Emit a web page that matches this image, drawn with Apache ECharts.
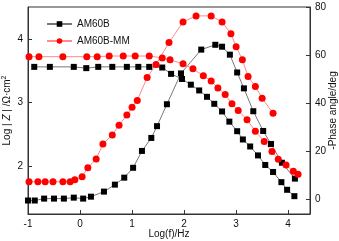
<!DOCTYPE html>
<html>
<head>
<meta charset="utf-8">
<script src="https://cdn.jsdelivr.net/npm/echarts@6/dist/echarts.min.js"></script>
<style>
  html, body { margin: 0; padding: 0; background: #fff; }
  #chart { width: 339px; height: 241px; }
</style>
</head>
<body>
<div id="chart"></div>
<script>
// AM60B  log|Z|
const bZFreq = [-0.88, -0.58, -0.12, 0.12, 0.35, 0.62, 0.90, 1.12, 1.33, 1.58, 1.75, 1.96, 2.13, 2.29, 2.44, 2.58, 2.73, 2.87, 3.02, 3.13, 3.27, 3.42, 3.56, 3.71, 3.87, 3.98, 4.12];
const bZ = [3.56, 3.56, 3.56, 3.54, 3.56, 3.56, 3.56, 3.56, 3.56, 3.55, 3.45, 3.37, 3.28, 3.19, 3.09, 2.98, 2.86, 2.70, 2.55, 2.42, 2.31, 2.17, 2.02, 1.91, 1.75, 1.63, 1.53];
// AM60B  -phase
const bPFreq = [-1, -0.87, -0.69, -0.5, -0.31, -0.12, 0.06, 0.21, 0.46, 0.67, 0.85, 1.02, 1.19, 1.37, 1.48, 1.67, 1.94, 2.33, 2.6, 2.73, 2.88, 3.02, 3.15, 3.33, 3.52, 3.67, 3.88, 4.13];
const bP = [-0.4, -0.4, 0.4, 0.4, 0.4, 0.8, 0.4, 1.2, 3.3, 6.2, 9.1, 13.2, 20.2, 25.6, 30.5, 39.6, 52.4, 62.3, 64.3, 63.5, 60.2, 52.8, 46.2, 36.7, 28.5, 23.1, 15.3, 8.7];
// AM60B-MM  log|Z|
const mZFreq = [-0.98, -0.79, -0.33, 0.13, 0.33, 0.56, 0.83, 1.06, 1.33, 1.58, 1.73, 1.98, 2.17, 2.37, 2.52, 2.65, 2.79, 2.92, 3.04, 3.21, 3.37, 3.54, 3.69, 3.81, 3.96, 4.10, 4.19];
const mZ = [3.72, 3.72, 3.72, 3.72, 3.72, 3.73, 3.73, 3.73, 3.73, 3.70, 3.67, 3.61, 3.53, 3.42, 3.34, 3.23, 3.125, 2.98, 2.875, 2.73, 2.55, 2.39, 2.23, 2.11, 2.02, 1.92, 1.875];
// AM60B-MM  -phase
const mPFreq = [-0.98, -0.81, -0.67, -0.52, -0.33, -0.19, -0.10, 0.04, 0.15, 0.31, 0.44, 0.62, 0.75, 0.90, 1.0, 1.10, 1.29, 1.46, 1.71, 1.98, 2.23, 2.52, 2.73, 2.90, 3.0, 3.12, 3.23, 3.37, 3.5, 3.71];
const mP = [7.4, 7.4, 7.4, 7.4, 7.4, 7.4, 8.2, 9.5, 13.2, 16.9, 23.1, 26.8, 30.9, 35.1, 38.4, 41.2, 50.7, 56.1, 65.2, 73.8, 76.3, 76.3, 73.8, 68.9, 63.5, 58.1, 51.1, 47.0, 42.1, 35.9];

const xTicks = [-1, 0, 1, 2, 3, 4];
const zTicks = [2, 3, 4];
const phaseTicks = [0, 20, 40, 60, 80];

const zip = (xs, ys) => xs.map((x, i) => [x, ys[i]]);

const font = 'Liberation Sans, Arial, sans-serif';
const axisColor = '#333';

let chart = echarts.init(document.getElementById('chart'));

const axisCommon = {
  axisLine: { show: true, onZero: false, lineStyle: { color: axisColor, width: 1 } },
  axisTick: { show: true, inside: true, length: 4, lineStyle: { color: axisColor } },
  axisLabel: { color: '#111', fontSize: 10, fontFamily: font, margin: 5 },
  splitLine: { show: false },
  nameMoveOverlap: false,
  nameTextStyle: { color: '#111', fontSize: 10, fontFamily: font },
};

let option = {
  animation: false,
  textStyle: { fontFamily: font },
  grid: {
    left: 28, right: 29, top: 7, bottom: 27,
    containLabel: false,
    outerBoundsMode: 'none',
    show: true, borderColor: axisColor, borderWidth: 1,
  },
  legend: {
    orient: 'vertical',
    left: 46, top: 19,
    padding: 0,
    itemWidth: 25, itemHeight: 7, itemGap: 7,
    textStyle: { fontSize: 10, color: '#111', fontFamily: font },
    data: ['AM60B', 'AM60B-MM'],
  },
  xAxis: {
    ...axisCommon,
    type: 'value',
    min: -1, max: 4.42,
    axisTick: { ...axisCommon.axisTick, customValues: xTicks },
    axisLabel: { ...axisCommon.axisLabel, customValues: xTicks, margin: 5 },
    name: 'Log(f)/Hz',
    nameLocation: 'middle',
    nameGap: 15,
  },
  yAxis: [
    {
      ...axisCommon,
      type: 'value',
      position: 'left',
      min: 1.25, max: 4.5,
      axisTick: { ...axisCommon.axisTick, customValues: zTicks },
      axisLabel: { ...axisCommon.axisLabel, customValues: zTicks },
      name: 'Log | {i|Z} | /Ω·cm{s|2}',
      nameLocation: 'middle',
      nameRotate: 90,
      nameGap: 14,
      nameTextStyle: {
        ...axisCommon.nameTextStyle,
        rich: {
          i: { fontStyle: 'italic', fontSize: 10, color: '#111', fontFamily: font },
          s: { fontSize: 7, color: '#111', verticalAlign: 'top', fontFamily: font, padding: [0, 0, 6, 0] },
        },
      },
    },
    {
      ...axisCommon,
      type: 'value',
      position: 'right',
      min: -6, max: 80,
      axisTick: { ...axisCommon.axisTick, customValues: phaseTicks },
      axisLabel: { ...axisCommon.axisLabel, customValues: phaseTicks },
      name: '-Phase angle/deg',
      nameLocation: 'middle',
      nameRotate: 90,
      nameGap: 18,
    },
  ],
  series: [
    {
      name: 'AM60B', type: 'line', yAxisIndex: 0,
      data: zip(bZFreq, bZ),
      symbol: 'rect', symbolSize: 6,
      itemStyle: { color: '#000' },
      lineStyle: { color: '#777', width: 1 },
    },
    {
      name: 'AM60B', type: 'line', yAxisIndex: 1,
      data: zip(bPFreq, bP),
      symbol: 'rect', symbolSize: 6,
      itemStyle: { color: '#000' },
      lineStyle: { color: '#777', width: 1 },
    },
    {
      name: 'AM60B-MM', type: 'line', yAxisIndex: 0,
      data: zip(mZFreq, mZ),
      symbol: 'circle', symbolSize: 7,
      itemStyle: { color: '#ff0000' },
      lineStyle: { color: '#ff8a8a', width: 1 },
    },
    {
      name: 'AM60B-MM', type: 'line', yAxisIndex: 1,
      data: zip(mPFreq, mP),
      symbol: 'circle', symbolSize: 7,
      itemStyle: { color: '#ff0000' },
      lineStyle: { color: '#ff8a8a', width: 1 },
    },
  ],
};

chart.setOption(option);
</script>
</body>
</html>
